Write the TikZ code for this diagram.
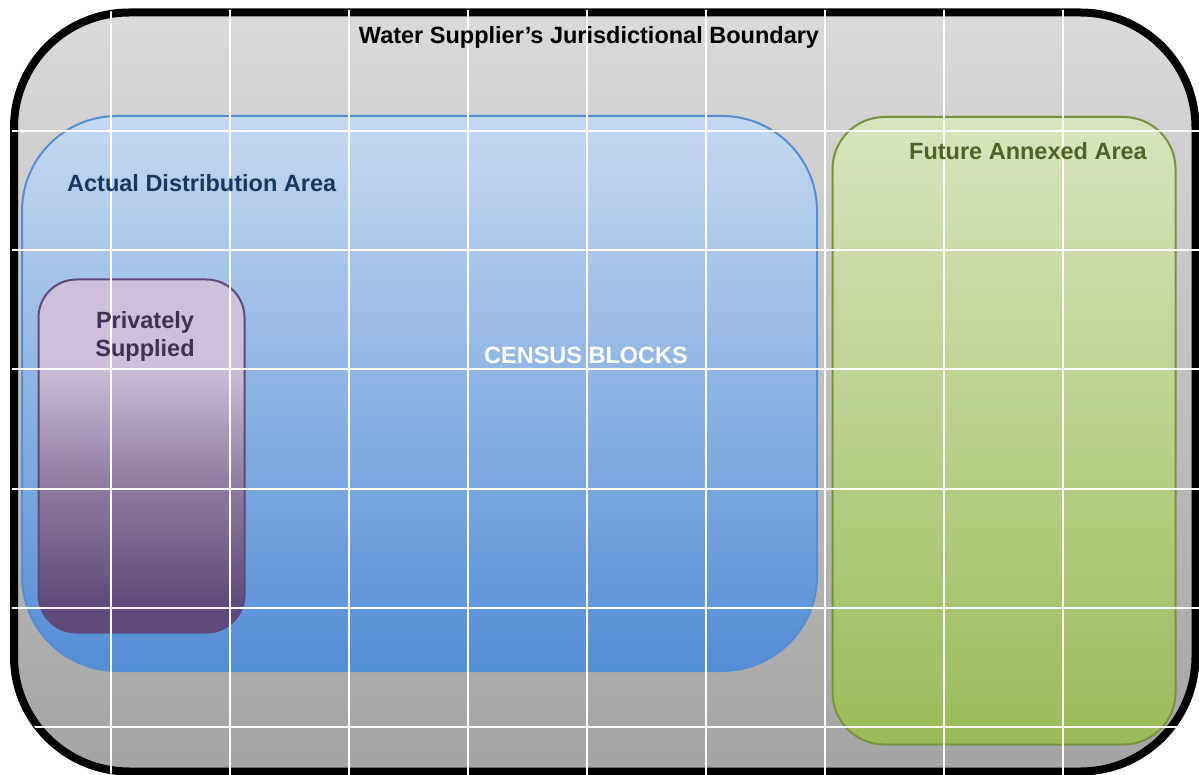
\documentclass[tikz,border=0pt]{standalone}
\usepackage{fontspec}
\setmainfont{Liberation Sans}
\definecolor{outertop}{RGB}{218,218,218}
\definecolor{outerbot}{RGB}{164,164,164}
\definecolor{bluetop}{RGB}{198,217,241}
\definecolor{bluebot}{RGB}{83,141,213}
\definecolor{blueedge}{RGB}{85,142,213}
\definecolor{bluetext}{RGB}{23,55,94}
\definecolor{greentop}{RGB}{216,229,190}
\definecolor{greenbot}{RGB}{155,187,89}
\definecolor{greenedge}{RGB}{119,147,60}
\definecolor{greentext}{RGB}{79,98,40}
\definecolor{purptop}{RGB}{205,192,218}
\definecolor{purpmid}{RGB}{146,127,163}
\definecolor{purpbot}{RGB}{96,74,123}
\definecolor{purpedge}{RGB}{95,73,122}
\definecolor{purptext}{RGB}{63,49,81}
\pgfdeclareverticalshading{purpshade}{100bp}{color(0bp)=(purpbot); color(29bp)=(purpbot); color(47bp)=(purpmid); color(63bp)=(purptop); color(100bp)=(purptop)}
\tikzset{
  lbl/.style={font=\bfseries\fontsize{23.5}{28}\selectfont, inner sep=0pt},
  gridline/.style={white, line width=2pt},
}
\begin{document}
\begin{tikzpicture}[x=1pt,y=-1pt]
\useasboundingbox (0,0) rectangle (1199,775);
% outer boundary
\shade[top color=outertop, bottom color=outerbot, rounded corners=115pt]
  (14,12.5) rectangle (1195.5,771.5);
% actual distribution area
\shade[top color=bluetop, bottom color=bluebot, rounded corners=95pt]
  (22,116) rectangle (817,671);
\draw[blueedge, line width=2pt, rounded corners=95pt] (22,116) rectangle (817,671);
% privately supplied
\shade[shading=purpshade, rounded corners=38pt]
  (38.5,279.5) rectangle (244.5,632.5);
\draw[purpedge, line width=2pt, rounded corners=38pt] (38.5,279.5) rectangle (244.5,632.5);
% future annexed area
\shade[top color=greentop, bottom color=greenbot, rounded corners=52pt]
  (832.5,117) rectangle (1175.5,744.5);
\draw[greenedge, line width=2pt, rounded corners=52pt] (832.5,117) rectangle (1175.5,744.5);
% outer border
\draw[black, line width=8pt, rounded corners=115pt] (14,12.5) rectangle (1195.5,771.5);
% grid
\begin{scope}
  \clip[rounded corners=117pt] (12,10) rectangle (1199,775);
  \foreach \i in {0,...,8} {
    \draw[gridline] (110.5+119*\i,0) -- (110.5+119*\i,775);
  }
  \foreach \j in {0,...,5} {
    \draw[gridline] (0,131.5+119*\j) -- (1199,131.5+119*\j);
  }
\end{scope}
% labels
\node[lbl, black] (title) at (589,37.5) {Water Supplier’s Jurisdictional Boundary};
\node[lbl, bluetext, anchor=west] (actual) at (67,183) {Actual Distribution Area};
\node[lbl, greentext] (future) at (1028,151) {Future Annexed Area};
\node[lbl, white] (census) at (586,355) {CENSUS BLOCKS};
\node[lbl, purptext, align=center] (private) at (145,336) {Privately\\Supplied};
\end{tikzpicture}
\end{document}
